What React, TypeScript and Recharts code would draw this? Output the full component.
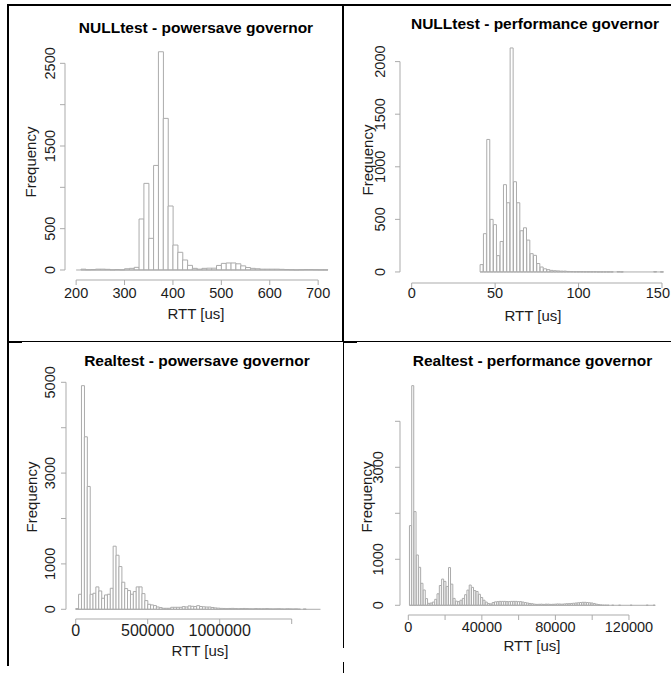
import React from 'react';
import { Bar, BarChart, Label, ReferenceLine, XAxis, YAxis } from 'recharts';

// bin counts
const nullPowersaveStart = 200;
const nullPowersaveWidth = 10;
const nullPowersaveCounts = [
  0, 10, 3, 5, 10, 10, 8, 2, 5, 2, 15, 20, 32, 617, 1048, 383, 1265, 2640, 1834, 774, 302, 214, 121, 56, 20, 10,
  20, 22, 22, 55, 80, 85, 85, 75, 50, 30, 20, 15, 10, 10, 10, 10, 8, 5, 3, 1, 3, 5, 5, 3, 2, 2,
];

const nullPerformanceStart = 41;
const nullPerformanceWidth = 2;
const nullPerformanceCounts = [
  70, 364, 1260, 500, 450, 155, 290, 830, 658, 2130, 858, 658, 392, 420, 303, 174, 158, 80, 47, 30, 22, 15, 12, 10,
  8, 8, 5, 4, 3, 3, 3, 2, 2, 2, 2, 1, 1, 1, 1, 1, 0, 3, 1, 0, 0, 0, 0, 0, 0, 0, 0, 0, 3, 0, 1,
];

const realPowersaveStart = 0;
const realPowersaveWidth = 20000;
const realPowersaveCounts = [
  15, 331, 4926, 3800, 2706, 330, 353, 493, 404, 243, 316, 331, 463, 1390, 1191, 941, 596, 456, 412, 331, 390, 493,
  493, 345, 191, 110, 96, 81, 51, 37, 22, 22, 22, 44, 44, 44, 44, 59, 51, 74, 66, 60, 80, 60, 55, 50, 50, 40, 30, 25,
  20, 18, 15, 18, 20, 15, 12, 15, 18, 15, 12, 10, 15, 12, 10, 12, 15, 10, 8, 10, 12, 8, 5, 10, 8, 5, 8, 3, 0, 5, 0,
  0, 0, 0, 0,
];

const realPerformanceStart = 625;
const realPerformanceWidth = 1250;
const realPerformanceCounts = [
  1732, 4775, 2036, 1094, 826, 478, 333, 145, 43, 50, 70, 130, 250, 430, 570, 520, 410, 820, 460, 150, 90, 80, 110,
  150, 230, 330, 440, 390, 320, 300, 240, 170, 110, 70, 40, 30, 60, 75, 80, 85, 85, 85, 80, 80, 85, 85, 85, 80, 80,
  70, 60, 50, 40, 35, 25, 20, 22, 25, 20, 25, 25, 20, 22, 25, 30, 28, 25, 30, 35, 35, 40, 45, 50, 55, 60, 65, 65, 60,
  55, 50, 40, 25, 15, 8, 3, 2, 1, 0, 1, 0, 0, 1, 0, 0, 0, 0, 1, 0, 0, 0, 0, 0, 0, 1, 0, 0, 1,
];

const FONT = '"Liberation Sans", Arial, Helvetica, sans-serif';
const BAR_STROKE = '#ababab';
const AXIS_STROKE = '#ababab';
const TEXT = '#1c1c1c';

interface Panel {
  title: string;
  start: number;
  width: number;
  counts: number[];
  xTicks: number[];
  xLabels: number[];
  yTicks: number[];
  yLabels: number[];
  // layout, page coordinates
  box: [number, number, number, number];
  plot: [number, number, number, number]; // left, top, right, bottom
  xDomain: [number, number];
  yDomain: [number, number];
  titleAt: [number, number];
  xTickY: number;
  xTickFont: number;
  xTickMaxRight: number;
  xLabelAt: [number, number];
  yTickX: number;
  yLabelAt: [number, number];
}

const range = (a: number, b: number, step: number) => {
  const out: number[] = [];
  for (let v = a; v <= b; v += step) out.push(v);
  return out;
};

const panels: Panel[] = [
  {
    title: 'NULLtest - powersave governor',
    start: nullPowersaveStart,
    width: nullPowersaveWidth,
    counts: nullPowersaveCounts,
    xTicks: [200, 300, 400, 500, 600, 700],
    xLabels: [200, 300, 400, 500, 600, 700],
    yTicks: [0, 500, 1000, 1500, 2000, 2500],
    yLabels: [0, 500, 1500, 2500],
    box: [9, 6, 333, 335],
    plot: [65, 43, 338, 280],
    xDomain: [177, 741],
    yDomain: [-121, 2746],
    titleAt: [196, 27],
    xTickY: 292.7,
    xTickFont: 14.5,
    xTickMaxRight: 340,
    xLabelAt: [196, 313.5],
    yTickX: 50,
    yLabelAt: [30, 162],
  },
  {
    title: 'NULLtest - performance governor',
    start: nullPerformanceStart,
    width: nullPerformanceWidth,
    counts: nullPerformanceCounts,
    xTicks: [0, 50, 100, 150],
    xLabels: [0, 50, 100, 150],
    yTicks: [0, 500, 1000, 1500, 2000],
    yLabels: [0, 500, 1000, 1500, 2000],
    box: [345, 6, 326, 335],
    plot: [400, 39, 671, 283],
    xDomain: [-7, 155.4],
    yDomain: [-105, 2215],
    titleAt: [535, 23],
    xTickY: 293.3,
    xTickFont: 14.5,
    xTickMaxRight: 670,
    xLabelAt: [533, 315],
    yTickX: 380,
    yLabelAt: [367, 160],
  },
  {
    title: 'Realtest - powersave governor',
    start: realPowersaveStart,
    width: realPowersaveWidth,
    counts: realPowersaveCounts,
    xTicks: [0, 500000, 1000000, 1500000],
    xLabels: [0, 500000, 1000000],
    yTicks: [0, 1000, 2000, 3000, 4000, 5000],
    yLabels: [0, 1000, 3000, 5000],
    box: [9, 344, 333, 331],
    plot: [66, 377, 330, 619],
    xDomain: [-67400, 1766000],
    yDomain: [-214, 5117],
    titleAt: [197, 360],
    xTickY: 630.7,
    xTickFont: 16,
    xTickMaxRight: 340,
    xLabelAt: [200, 650],
    yTickX: 50,
    yLabelAt: [31.7, 497],
  },
  {
    title: 'Realtest - performance governor',
    start: realPerformanceStart,
    width: realPerformanceWidth,
    counts: realPerformanceCounts,
    xTicks: range(0, 120000, 20000),
    xLabels: [0, 40000, 80000, 120000],
    yTicks: [0, 1000, 2000, 3000, 4000],
    yLabels: [0, 1000, 3000],
    box: [345, 344, 326, 331],
    plot: [400, 377, 665, 615],
    xDomain: [-4513, 139600],
    yDomain: [-211, 4963],
    titleAt: [532.5, 360],
    xTickY: 626.7,
    xTickFont: 14.5,
    xTickMaxRight: 670,
    xLabelAt: [532, 645],
    yTickX: 378.3,
    yLabelAt: [366.7, 497],
  },
];

const TICK_SIZE = 14.5;
const LABEL_SIZE = 15;
const TITLE_SIZE = 15.5;

function Histogram({ p }: { p: Panel }) {
  const [L, T, W, H] = p.box;
  const [pl, pt, pr, pb] = p.plot;
  const data = p.counts.map((count, i) => ({ mid: p.start + p.width * (i + 0.5), count }));
  const lastEdge = p.start + p.width * p.counts.length;
  const yAxisW = pl - L;
  const xAxisH = T + H - pb;

  const fixed = (x: number, y: number, text: string, size: number, bold = false, rotate = false) => () => (
    <text
      x={x - L}
      y={y - T}
      textAnchor="middle"
      dominantBaseline="central"
      fontFamily={FONT}
      fontSize={size}
      fontWeight={bold ? 'bold' : 'normal'}
      fill={bold ? '#000' : TEXT}
      transform={rotate ? `rotate(-90 ${x - L} ${y - T})` : undefined}
    >
      {text}
    </text>
  );

  const xTick = (props: any) => {
    const v = props.payload.value;
    if (!p.xLabels.includes(v)) return <g />;
    // keep the last label inside the page, as in the cropped original
    const half = (String(v).length * 0.556 * p.xTickFont) / 2;
    const x = Math.min(props.x, p.xTickMaxRight - L - half);
    return (
      <text x={x} y={p.xTickY - T} textAnchor="middle" dominantBaseline="central" fontFamily={FONT} fontSize={p.xTickFont} fill={TEXT}>
        {v}
      </text>
    );
  };

  const yTick = (props: any) => {
    const v = props.payload.value;
    if (!p.yLabels.includes(v)) return <g />;
    const x = p.yTickX - L;
    return (
      <text
        x={x}
        y={props.y}
        textAnchor="middle"
        dominantBaseline="central"
        fontFamily={FONT}
        fontSize={TICK_SIZE}
        fill={TEXT}
        transform={`rotate(-90 ${x} ${props.y})`}
      >
        {v}
      </text>
    );
  };

  return (
    <div style={{ position: 'absolute', left: L, top: T }}>
      <BarChart
        width={W}
        height={H}
        data={data}
        margin={{ left: 0, top: pt - T, right: L + W - pr, bottom: 0 }}
        barCategoryGap={0}
        barGap={0}
      >
        <XAxis
          type="number"
          dataKey="mid"
          domain={p.xDomain}
          allowDataOverflow
          ticks={p.xTicks}
          interval={0}
          height={xAxisH}
          axisLine={false}
          tickLine={{ stroke: AXIS_STROKE }}
          tickSize={5}
          tickMargin={0}
          tick={xTick}
        >
          <Label content={fixed(p.xLabelAt[0], p.xLabelAt[1], 'RTT [us]', LABEL_SIZE)} />
        </XAxis>
        <YAxis
          type="number"
          domain={p.yDomain}
          allowDataOverflow
          ticks={p.yTicks}
          interval={0}
          width={yAxisW}
          axisLine={false}
          tickLine={{ stroke: AXIS_STROKE }}
          tickSize={5}
          tickMargin={0}
          tick={yTick}
        >
          <Label content={fixed(p.yLabelAt[0], p.yLabelAt[1], 'Frequency', LABEL_SIZE, false, true)} />
        </YAxis>
        <ReferenceLine
          segment={[
            { x: p.xTicks[0], y: p.yDomain[0] },
            { x: p.xTicks[p.xTicks.length - 1], y: p.yDomain[0] },
          ]}
          stroke={AXIS_STROKE}
          ifOverflow="visible"
        />
        <ReferenceLine
          segment={[
            { x: p.xDomain[0], y: p.yTicks[0] },
            { x: p.xDomain[0], y: p.yTicks[p.yTicks.length - 1] },
          ]}
          stroke={AXIS_STROKE}
          ifOverflow="visible"
        />
        <ReferenceLine
          segment={[
            { x: p.start, y: 0 },
            { x: lastEdge, y: 0 },
          ]}
          stroke={BAR_STROKE}
          ifOverflow="visible"
        >
          <Label content={fixed(p.titleAt[0], p.titleAt[1], p.title, TITLE_SIZE, true)} />
        </ReferenceLine>
        <Bar dataKey="count" fill="#fff" stroke={BAR_STROKE} strokeWidth={1} isAnimationActive={false} />
      </BarChart>
    </div>
  );
}

const line = (left: number, top: number, width: number, height: number) => (
  <div style={{ position: 'absolute', left, top, width, height, background: '#000' }} />
);

export default function App() {
  return (
    <div style={{ position: 'absolute', left: 0, top: 0, width: 671, height: 675, overflow: 'hidden', background: '#fff' }}>
      {panels.map((p) => (
        <Histogram key={p.title} p={p} />
      ))}
      {line(7, 4, 664, 2)}
      {line(7, 4, 2, 662)}
      {line(342, 4, 2, 338)}
      {line(343, 342, 1, 306)}
      {line(343, 662, 1, 11)}
      {line(9, 341, 662, 1)}
      {line(9, 341, 13, 2)}
      {line(344, 341, 13, 2)}
    </div>
  );
}
